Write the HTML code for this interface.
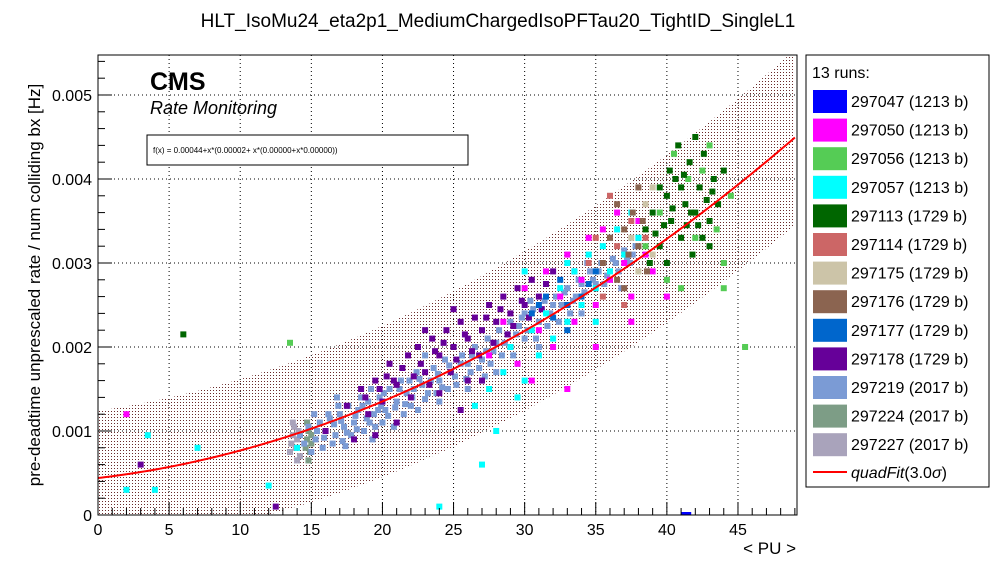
<!DOCTYPE html>
<html><head><meta charset="utf-8">
<style>
html,body{margin:0;padding:0;background:#fff;}
svg{display:block;font-family:"Liberation Sans",sans-serif;}
</style></head>
<body>
<svg id="chart" width="996" height="572" viewBox="0 0 996 572">
<defs>
<pattern id="dots" width="3" height="3" patternUnits="userSpaceOnUse">
<rect x="0" y="0" width="1" height="1" fill="#6a2a2a"/>
</pattern>
<clipPath id="plotclip"><rect x="98" y="55" width="699" height="460"/></clipPath>
</defs>
<rect x="0" y="0" width="996" height="572" fill="#fff"/>
<text x="498" y="27" text-anchor="middle" font-size="19">HLT_IsoMu24_eta2p1_MediumChargedIsoPFTau20_TightID_SingleL1</text>
<g id="grid"></g>
<g id="band" clip-path="url(#plotclip)"></g>
<g id="points" clip-path="url(#plotclip)"></g>
<g id="fitline" clip-path="url(#plotclip)"></g>
<rect x="98" y="55" width="699" height="460" fill="none" stroke="#000" stroke-width="1"/>
<g id="axes"></g>
<text x="150" y="90" font-size="25" font-weight="bold">CMS</text>
<text x="150" y="114" font-size="18" font-style="italic">Rate Monitoring</text>
<rect x="147" y="135" width="321" height="30" fill="#fff" stroke="#000"/>
<text x="153" y="153" font-size="8">f(x) = 0.00044+x*(0.00002+ x*(0.00000+x*0.00000))</text>
<text x="796" y="554" text-anchor="end" font-size="17">&lt; PU &gt;</text>
<text transform="translate(40,285) rotate(-90)" text-anchor="middle" font-size="17">pre-deadtime unprescaled rate / num colliding bx [Hz]</text>
<g id="legend">
<rect x="806" y="55" width="183" height="432" fill="#fff" stroke="#000"/>
<text x="812" y="78" font-size="16">13 runs:</text>
</g>
</svg>
<script>
// run metadata
const runNames = ["297047 (1213 b)","297050 (1213 b)","297056 (1213 b)","297057 (1213 b)","297113 (1729 b)","297114 (1729 b)","297175 (1729 b)","297176 (1729 b)","297177 (1729 b)","297178 (1729 b)","297219 (2017 b)","297224 (2017 b)","297227 (2017 b)"];
const runColors = ["#0000ff","#ff00ff","#55cc55","#00ffff","#006600","#cc6666","#ccc4a8","#8b6450","#0066cc","#660099","#7b9bd5","#7d9d86","#a9a3bb"];
// fit coefficients
const fitCoef = [0.00044, 0.00002, 0.00000128];
const bandHalf = [0.0008, 0.000005];
// points [PU, rate in 1e-3 Hz]
const r297219 = [[14.2,0.95],[14.8,1.05],[15.3,0.9],[15.6,1.1],[16,1.0],[16.3,1.15],[16.7,0.95],[17,1.2],[17.3,1.05],[17.6,1.3],[18,1.1],[18.3,1.25],[18.7,1.0],[19,1.35],[19.4,1.2],[19.8,1.4],[20.2,1.25],[20.5,1.5],[21,1.35],[21.3,1.6],[21.7,1.45],[22,1.3],[22.4,1.7],[22.8,1.55],[23.2,1.45],[23.6,1.75],[24,1.6],[24.4,1.85],[24.8,1.7],[25.2,1.55],[25.6,1.9],[26,1.8],[26.5,2.0],[27,1.85],[27.4,2.1],[27.8,1.95],[28.2,2.2],[28.6,2.05],[29,2.3],[29.4,2.15],[29.8,2.35],[30.2,2.2],[30.6,2.45],[31,2.3],[31.4,2.55],[31.8,2.4],[32.2,2.6],[32.6,2.5],[33,2.7],[33.4,2.55],[33.8,2.8],[34.2,2.65],[34.6,2.9],[35,2.75],[35.4,3.0],[35.8,2.85],[36.2,3.05],[36.6,2.9],[37,3.15],[37.4,3.0],[37.8,3.2],[16.5,0.85],[18.5,1.4],[20,1.1],[21.5,1.2],[23,1.9],[26,1.5],[28,1.7],[31,2.0],[34,2.4],[36,3.3],[15.2,1.2],[17.8,0.95],[19.5,1.05],[22.5,1.25],[24,1.35],[15.8,0.8],[16.9,1.3],[18.9,1.15],[20.8,1.05],[21.9,1.6],[23.8,1.45],[25,2.0],[27.2,1.65],[29.2,1.9],[30.4,2.55],[32.4,2.3],[34.4,3.0],[36.8,2.7],[17.2,0.88],[19.2,1.5],[15,0.75],[16.2,1.2],[18.1,1.18],[19.9,1.3],[22.2,1.5],[24.6,1.5],[26.2,1.7],[28.4,1.9],[30.8,2.1],[33.2,2.4],[15.4,1.0],[15.9,0.92],[16.6,1.08],[17.1,1.12],[17.5,0.98],[18.2,1.02],[18.6,1.3],[19.1,1.1],[19.7,1.25],[20.1,1.45],[20.4,1.18],[20.9,1.28],[21.2,1.5],[21.6,1.32],[22.1,1.4],[22.6,1.62],[23,1.38],[23.4,1.6],[23.9,1.68],[24.2,1.52],[24.7,1.78],[25.1,1.65],[25.5,1.8],[25.9,1.62],[26.3,1.9],[26.8,1.75],[27.3,1.95],[27.6,1.8],[28,2.05],[28.8,2.15],[29.6,2.25],[30,2.1],[30,2.4],[31.2,2.45],[31.6,2.25],[32,2.5],[32.8,2.65],[33.6,2.6],[34,2.75],[34.8,2.8],[35.2,2.9],[35.6,2.75],[36.4,3.0],[37.2,3.05],[37.6,3.1],[38,3.3],[16.8,1.4],[14.5,0.85],[17.4,0.82],[19.3,0.9]];
const r297178 = [[17.5,1.3],[18.5,1.5],[19.5,1.6],[20.5,1.8],[21,1.55],[21.8,1.9],[22.5,2.0],[23,1.7],[23.5,2.1],[24,1.9],[24.5,2.2],[25,2.0],[25.5,2.3],[26,2.1],[26.5,2.35],[27,2.2],[27.5,2.5],[28,2.3],[28.5,2.6],[29,2.4],[29.5,2.7],[30,2.5],[30.5,2.8],[31,2.6],[31.5,2.75],[32,2.9],[22,1.4],[24,1.45],[26,1.6],[20,1.35],[19,1.2],[25,2.45],[27,1.6],[29,2.0],[33,2.5],[23,2.2],[21,1.1],[18,0.9],[16,1.0],[3,0.6],[12.5,0.1],[19.5,0.95],[25.5,1.25],[22.7,1.8],[24.8,1.7],[26.8,1.9],[28.8,2.15],[20.8,1.6],[23.3,1.55],[21.4,1.75],[22.2,1.65],[23.7,1.95],[24.3,2.05],[25.2,1.85],[25.8,2.15],[26.3,1.95],[27.3,2.35],[27.8,2.05],[28.3,2.45],[29.2,2.25],[29.8,2.55],[30.3,2.35],[31.2,2.45],[19.8,1.5],[20.3,1.65],[18.8,1.4]];
const r297113 = [[38.5,3.4],[39,3.6],[39.5,3.2],[40,3.8],[40.3,3.5],[40.6,4.0],[41,3.3],[41.3,3.7],[41.6,4.2],[42,3.6],[42.3,3.9],[42.6,4.3],[43,3.5],[43.3,4.0],[43.6,3.7],[44,4.1],[40,3.0],[41,3.9],[42,4.5],[43,3.2],[39.5,3.9],[40.8,4.4],[42.5,3.3],[38.8,3.0],[41.8,3.1],[6,2.15],[40.4,3.65],[41.4,3.45],[42.8,3.75],[39.2,3.35],[40.2,4.1],[41.2,4.05],[42.2,3.45],[43.2,3.85],[39.8,3.45],[41.7,3.6]];
const r297056 = [[38.5,3.2],[39.5,3.6],[40.5,4.3],[41.5,4.0],[42.5,4.1],[43.5,3.4],[44,3.0],[44.5,3.8],[40,2.8],[43,4.4],[44,2.7],[13.5,2.05],[45.5,2.0],[42,3.3],[41,2.7]];
const r297050 = [[27.5,1.9],[28.5,2.3],[29.5,1.8],[30,2.7],[31,2.2],[31.5,2.9],[32,2.0],[32.5,2.6],[33,3.1],[33.5,2.3],[34,2.8],[34.5,3.3],[35,2.5],[35.5,3.4],[36,2.8],[36.5,3.6],[37,3.0],[37.5,2.6],[38,3.5],[38.5,3.1],[39,2.9],[2,1.2],[30.5,1.6],[33,1.5],[35,2.0],[37.5,2.3],[40,2.6]];
const r297057 = [[26.5,1.3],[27.5,1.5],[28.5,1.7],[29,2.0],[30,1.6],[30.5,2.2],[31,1.9],[31.5,2.4],[32,2.1],[32.5,2.7],[33,2.3],[33.5,2.9],[34,2.5],[34.5,3.1],[35,2.7],[35.5,3.2],[36,2.9],[36.5,3.4],[37,3.1],[37.5,3.6],[38,3.3],[27,0.6],[28,1.0],[29.5,1.4],[24,0.1],[2,0.3],[4,0.3],[12,0.35],[14,0.8],[33,3.0],[30,2.9],[35,2.3],[3.5,0.95],[7,0.8]];
const r297176 = [[35.5,3.0],[36,3.3],[36.5,2.8],[37,3.4],[37.3,3.1],[37.6,3.6],[38,3.2],[38.3,3.5],[38.6,2.9],[37,2.7],[36.5,3.7],[38,3.9]];
const r297114 = [[34.5,3.0],[35.5,2.6],[36.5,3.2],[37,2.5],[37.5,3.5],[38.5,3.3],[36,3.8],[35,3.3]];
const r297175 = [[37.5,3.3],[38.5,3.7],[39,3.1],[38,2.9],[39,3.9]];
const r297177 = [[30.5,2.4],[31.5,2.6],[32,2.35],[32.5,2.8],[33,2.5],[33.5,2.9],[34,2.6],[34.5,2.75],[35,2.9],[33,2.2],[31,2.5]];
const r297227 = [[13.5,0.75],[13.6,0.85],[13.7,0.95],[13.8,1.05],[13.9,0.8],[14,0.9],[14.1,1.0],[14.2,0.7],[13.7,1.1],[14,0.65]];
const r297224 = [[14.6,0.8],[14.7,0.9],[14.8,1.0],[14.9,0.75],[15,0.85],[14.7,1.1],[15,0.95],[14.8,0.65]];
const r297047 = [[41.2,0.0],[41.5,0.0]];
// draw order (back to front)
const drawOrder = [[r297227,12],[r297224,11],[r297219,10],[r297178,9],[r297177,8],[r297057,3],[r297050,1],[r297114,5],[r297176,7],[r297175,6],[r297056,2],[r297113,4],[r297047,0]];
const xTicks = [0,5,10,15,20,25,30,35,40,45];
const yTicks = [0,0.001,0.002,0.003,0.004,0.005];
const yTickLabels = ["0","0.001","0.002","0.003","0.004","0.005"];

const NS="http://www.w3.org/2000/svg";
const X0=98,X1=797,Y0=515,Y1=55, XMAX=49.15, YMAX=0.005476;
function sx(v){return X0+v/XMAX*(X1-X0);}
function sy(v){return Y0-v/YMAX*(Y0-Y1);}
function fit(x){return fitCoef[0]+x*(fitCoef[1]+x*fitCoef[2]);}
function hw(x){return bandHalf[0]+bandHalf[1]*x;}
function mk(tag,attrs,parent){const e=document.createElementNS(NS,tag);for(const k in attrs)e.setAttribute(k,attrs[k]);parent.appendChild(e);return e;}

const grid=document.getElementById('grid');
xTicks.forEach(t=>{if(t>0){const l=mk('line',{x1:sx(t),x2:sx(t),y1:Y1,y2:Y0,stroke:'#000','stroke-width':1,'stroke-dasharray':'1,3'},grid);

}});
yTicks.forEach(t=>{if(t>0){const l=mk('line',{x1:X0,x2:X1,y1:sy(t),y2:sy(t),stroke:'#000','stroke-width':1,'stroke-dasharray':'1,3'},grid);

}});

// band
let up=[],dn=[];
for(let x=0;x<=XMAX;x+=0.25){up.push(sx(x)+','+sy(fit(x)+hw(x)));dn.unshift(sx(x)+','+sy(fit(x)-hw(x)));}
const bp=mk('polygon',{points:up.concat(dn).join(' '),fill:'url(#dots)'},document.getElementById('band'));



// points
const pg=document.getElementById('points');
drawOrder.forEach(([arr,ci])=>{arr.forEach(p=>{
 const r=mk('rect',{x:sx(p[0])-3,y:sy(p[1]*1e-3)-3,width:6,height:6,fill:runColors[ci]},pg);
 
 
});});

// fit line
let fl=[];for(let x=0;x<=XMAX;x+=0.25)fl.push(sx(x)+','+sy(fit(x)));
const pl=mk('polyline',{points:fl.join(' '),fill:'none',stroke:'#ff0000','stroke-width':2},document.getElementById('fitline'));



// axes ticks
const ax=document.getElementById('axes');
for(let t=0;t<=49;t++){const major=t%5===0;mk('line',{x1:sx(t),x2:sx(t),y1:Y0,y2:Y0-(major?13:7),stroke:'#000'},ax);}
xTicks.forEach(t=>{const tx=mk('text',{x:sx(t),y:Y0+20,'text-anchor':'middle','font-size':16},ax);tx.textContent=t;

});
for(let v=0;v<=0.0054;v+=0.0002){const major=Math.abs(v/0.001-Math.round(v/0.001))<1e-6;mk('line',{x1:X0,x2:X0+(major?14:7),y1:sy(v),y2:sy(v),stroke:'#000'},ax);}
yTicks.forEach((t,i)=>{const tx=mk('text',{x:X0-6,y:sy(t)+6,'text-anchor':'end','font-size':16},ax);tx.textContent=yTickLabels[i];

});

// legend
const lg=document.getElementById('legend');
runNames.forEach((n,i)=>{const y=101+i*28.6;
 const g=mk('g',{},lg);
 
 
 mk('rect',{x:813,y:y-11,width:34,height:23,fill:runColors[i]},g);
 const t=mk('text',{x:851,y:y+6,'font-size':16},g);t.textContent=n;});
const fy=472;
const fg=mk('g',{},lg);


mk('line',{x1:813,x2:847,y1:fy,y2:fy,stroke:'#ff0000','stroke-width':2},fg);
const ft=mk('text',{x:851,y:fy+6,'font-size':16},fg);
ft.innerHTML='<tspan font-style="italic">quadFit</tspan>(3.0<tspan font-style="italic">σ</tspan>)';
</script>
</body></html>
